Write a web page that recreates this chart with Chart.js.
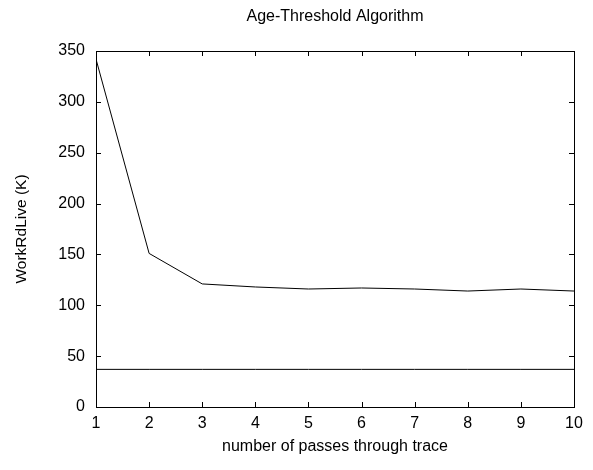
<!DOCTYPE html>
<html>
<head>
<meta charset="utf-8">
<script src="https://cdn.jsdelivr.net/npm/chart.js@4/dist/chart.umd.min.js"></script>
<style>
html,body{margin:0;padding:0;background:#fff;}
canvas{display:block;}
</style>
</head>
<body>
<canvas id="c" width="593" height="470"></canvas>
<script>
const passes = [1, 2, 3, 4, 5, 6, 7, 8, 9, 10];
const workRdLive = [342, 151, 121, 118, 116, 117, 116, 114, 116, 114];
const baseline = [37, 37, 37, 37, 37, 37, 37, 37, 37, 37];
const yTicks = [0, 50, 100, 150, 200, 250, 300, 350];

const FONT = "'Liberation Sans', Arial, Helvetica, sans-serif";

const innerTicks = {
  id: 'innerTicks',
  afterDatasetsDraw(chart) {
    const {ctx, chartArea: a, scales} = chart;
    ctx.save();
    ctx.strokeStyle = '#000';
    ctx.lineWidth = 1;
    ctx.strokeRect(Math.round(a.left) + 0.5, Math.round(a.top) + 0.5,
                   Math.round(a.right - a.left), Math.round(a.bottom - a.top));
    const L = 5;
    ctx.beginPath();
    scales.x.ticks.forEach((t, i) => {
      const x = Math.round(scales.x.getPixelForTick(i)) + 0.5;
      ctx.moveTo(x, a.bottom); ctx.lineTo(x, a.bottom - L);
      ctx.moveTo(x, a.top); ctx.lineTo(x, a.top + L);
    });
    scales.y.ticks.forEach((t, i) => {
      const y = Math.round(scales.y.getPixelForTick(i)) + 0.5;
      ctx.moveTo(a.left, y); ctx.lineTo(a.left + L, y);
      ctx.moveTo(a.right, y); ctx.lineTo(a.right - L, y);
    });
    ctx.stroke();
    ctx.restore();
  }
};

new Chart(document.getElementById('c'), {
  type: 'line',
  data: {
    datasets: [
      {
        label: 'WorkRdLive',
        data: passes.map((p, i) => ({x: p, y: workRdLive[i]})),
        borderColor: '#000', borderWidth: 1, pointRadius: 0, tension: 0, fill: false
      },
      {
        label: 'baseline',
        data: passes.map((p, i) => ({x: p, y: baseline[i]})),
        borderColor: '#000', borderWidth: 1, pointRadius: 0, tension: 0, fill: false
      }
    ]
  },
  options: {
    responsive: false,
    animation: false,
    layout: {padding: {left: 0, right: 19, top: 0, bottom: 0}},
    plugins: {
      legend: {display: false},
      tooltip: {enabled: false},
      title: {
        display: true,
        fullSize: false,
        text: 'Age-Threshold Algorithm',
        color: '#000',
        font: {family: FONT, size: 16, weight: 'normal', lineHeight: 1.2},
        padding: {top: 7.4, bottom: 24.4}
      }
    },
    scales: {
      x: {
        type: 'linear',
        min: 1, max: 10,
        grid: {display: false, drawTicks: false},
        border: {display: false},
        ticks: {stepSize: 1, color: '#000', font: {family: FONT, size: 16}, padding: 7.4, maxRotation: 0},
        title: {display: true, text: 'number of passes through trace', color: '#000',
                font: {family: FONT, size: 16}, padding: {top: 4, bottom: 13.4}},
        afterFit(s) { s.height = 63; }
      },
      y: {
        min: 0, max: 350,
        afterBuildTicks(s) { s.ticks = yTicks.map(v => ({value: v})); },
        grid: {display: false, drawTicks: false},
        border: {display: false},
        ticks: {color: '#000', font: {family: FONT, size: 16}, padding: 11},
        title: {display: true, text: 'WorkRdLive (K)', color: '#000',
                font: {family: FONT, size: 15.5}, padding: {top: 12.7, bottom: 4}},
        afterFit(s) { s.width = 96; }
      }
    }
  },
  plugins: [innerTicks]
});
</script>
</body>
</html>
